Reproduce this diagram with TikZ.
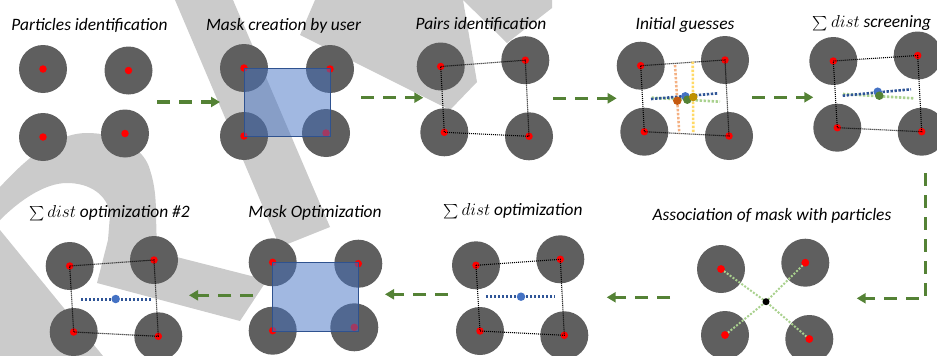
\documentclass[tikz,border=0pt]{standalone}
\usepackage{amsmath}
\usepackage{fontspec}
\setmainfont{Carlito}
\usetikzlibrary{arrows.meta}

\definecolor{pgray}{HTML}{5F5F5F}
\definecolor{wgray}{HTML}{CBCBCB}
\definecolor{fgreen}{HTML}{548235}
\definecolor{lgreen}{HTML}{A9D18E}
\definecolor{dblue}{HTML}{2F5597}
\definecolor{mblue}{HTML}{4472C4}
\definecolor{bord}{HTML}{2F528F}
\definecolor{lorange}{HTML}{F4B183}
\definecolor{dorange}{HTML}{C55A11}
\definecolor{lyellow}{HTML}{FFD966}
\definecolor{dgold}{HTML}{BF9000}

\tikzset{
  particle/.style={circle, fill=pgray, minimum size=48pt, inner sep=0pt},
  rdot/.style={circle, fill=red, minimum size=7.5pt, inner sep=0pt},
  cdot/.style={circle, minimum size=8.5pt, inner sep=0pt},
  pairline/.style={line width=1.1pt, dash pattern=on 1pt off 1pt},
  cline/.style={line width=2.6pt, dash pattern=on 2.4pt off 1.6pt},
  flow/.style={draw=fgreen, line width=3.3pt, dash pattern=on 13pt off 9pt,
    -{Triangle[length=9pt,width=10pt]}},
  mask/.style={fill=mblue, fill opacity=0.5, draw=bord, line width=1pt},
  title/.style={font=\fontsize{17.4}{20}\selectfont\itshape, anchor=base, inner sep=0pt},
  wmark/.style={fill=wgray, draw=none}
}

% summation sign set a little smaller than the title text, then "dist" in math italic
\newcommand{\sumdist}{{\fontsize{15}{15}\selectfont$\sum$}\,$dist$}

\newcommand{\quadpanel}[9]{%
  % #1 prefix, #2..#9 = x,y of four particles (tl, tr, bl, br)
  \node[particle] (#1a) at (#2,#3) {};
  \node[particle] (#1b) at (#4,#5) {};
  \node[particle] (#1c) at (#6,#7) {};
  \node[particle] (#1d) at (#8,#9) {};
  \node[rdot] (#1ra) at (#1a) {};
  \node[rdot] (#1rb) at (#1b) {};
  \node[rdot] (#1rc) at (#1c) {};
  \node[rdot] (#1rd) at (#1d) {};
}
\newcommand{\pairquad}[1]{%
  \draw[pairline] (#1ra.center) -- (#1rb.center) -- (#1rd.center) -- (#1rc.center) -- cycle;}

\begin{document}
\begin{tikzpicture}[x=1pt, y=-1pt]
\useasboundingbox (0,0) rectangle (937,356);

% background watermark strokes
\fill[wmark] (175,0) -- (233,0) -- (330,227) -- (280,247) -- cycle;
\fill[wmark] (315,0) -- (463,0) -- (507,43) -- (552,8) -- (552,0) -- (463,0)
  -- (477,82) -- (450,110) -- (300,35) -- cycle;
\fill[wmark]
  (0,187) .. controls (25,160) and (55,133) .. (87,133)
  .. controls (120,133) and (145,150) .. (150,170)
  .. controls (155,185) and (156,200) .. (156,215)
  -- (157,252) -- (267,280) -- (240,321) -- (97,283)
  -- (108,240) -- (110,215) .. controls (108,195) and (90,183) .. (67,183)
  .. controls (45,183) and (20,200) .. (0,220) -- cycle;
\fill[wmark] (0,230) -- (103,356) -- (0,356) -- cycle;

% titles
\node[title] (t1) at (89.5,30.7) {Particles identification};
\node[title] (t2) at (283.5,30.7) {Mask creation by user};
\node[title] (t3) at (481,29.3) {Pairs identification};
\node[title] (t4) at (685,29.3) {Initial guesses};
\node[title] (t5) at (872,27.5) {\sumdist\ screening};
\node[title] (t6) at (109.5,217.7) {\sumdist\ optimization \#2};
\node[title] (t7) at (315,217.7) {Mask Optimization};
\node[title] (t8) at (513,215.7) {\sumdist\ optimization};
\node[title] (t9) at (772,220) {Association of mask with particles};

% panel 1: particles identification
\quadpanel{p}{43}{69}{128.5}{70.5}{43}{137}{125}{133.5}

% panel 2: mask creation by user
\quadpanel{q}{244}{68}{330}{69}{244}{136}{326}{133}
\draw[mask] (qra.center) rectangle (330.3,136.7);

% panel 3: pairs identification
\quadpanel{r}{440.7}{66.5}{525.3}{60.2}{444.3}{132.3}{529}{136.3}
\pairquad{r}

% panel 4: initial guesses
\quadpanel{s}{640.7}{65.7}{725}{60}{644.3}{131.7}{729}{136}
\pairquad{s}
\coordinate (s_o1) at (675,65);   \coordinate (s_o2) at (679.3,133.3);
\coordinate (s_y1) at (692.7,61.7); \coordinate (s_y2) at (693.3,133.3);
\coordinate (s_b1) at (651,99);   \coordinate (s_b2) at (718.3,93.3);
\coordinate (s_g1) at (651.7,97.7); \coordinate (s_g2) at (720,101.7);
\draw[cline, lorange] (s_o1) -- (s_o2);
\draw[cline, lyellow] (s_y1) -- (s_y2);
\draw[cline, lgreen] (s_g1) -- (s_g2);
\draw[cline, dblue] (s_b1) -- (s_b2);
\node[cdot, fill=dorange] (s_od) at (677.3,100.7) {};
\node[cdot, fill=mblue] (s_bd) at (685.3,96.3) {};
\node[cdot, fill=fgreen] (s_gd) at (687.3,99.7) {};
\node[cdot, fill=dgold] (s_yd) at (693.3,97) {};

% panel 5: sum dist screening
\quadpanel{u}{833.3}{61}{917.7}{55.5}{837.3}{127.7}{921.7}{131.7}
\pairquad{u}
\coordinate (u_b1) at (842.7,95.7); \coordinate (u_b2) at (911,89.3);
\coordinate (u_g1) at (843,94);     \coordinate (u_g2) at (913.3,98.3);
\draw[cline, lgreen] (u_g1) -- (u_g2);
\draw[cline, dblue] (u_b1) -- (u_b2);
\node[cdot, fill=mblue] (u_bd) at (877.7,91.7) {};
\node[cdot, fill=fgreen] (u_gd) at (879.3,95.7) {};

% panel 6: sum dist optimization #2
\quadpanel{v}{69.7}{266}{154}{260}{73.7}{332}{158.3}{336.3}
\pairquad{v}
\coordinate (v_b1) at (81,299.3); \coordinate (v_b2) at (152.7,299.3);
\draw[cline, dblue] (v_b1) -- (v_b2);
\node[cdot, fill=mblue] (v_bd) at (115.7,299) {};

% panel 7: mask optimization
\quadpanel{w}{272.7}{262.3}{358.3}{263.7}{272.7}{330.7}{354.3}{327.3}
\draw[mask] (wra.center) rectangle (358.7,331);

% panel 8: sum dist optimization
\quadpanel{x}{476}{265.3}{560.3}{259.3}{480}{331}{564.3}{335.3}
\pairquad{x}
\coordinate (x_b1) at (486,296.7); \coordinate (x_b2) at (555,296.7);
\draw[cline, dblue] (x_b1) -- (x_b2);
\node[cdot, fill=mblue] (x_bd) at (521,296.7) {};

% panel 9: association of mask with particles
\quadpanel{y}{721}{269}{805.3}{262.7}{725}{335}{809.3}{339}
\coordinate (yc) at (766,301.7);
\foreach \k in {a,b,c,d} \draw[cline, lgreen, line width=2pt, dash pattern=on 2pt off 1.6pt] (yr\k.center) -- (yc);
\node[rdot] at (yra) {};
\node[rdot] at (yrb) {};
\node[rdot] at (yrc) {};
\node[rdot] at (yrd) {};
\node[circle, fill=black, minimum size=7pt, inner sep=0pt] (ycd) at (yc) {};

% flow arrows
\coordinate (f1s) at (157,102);   \coordinate (f1e) at (220,102);
\coordinate (f2s) at (361,97.7);  \coordinate (f2e) at (423.3,97.7);
\coordinate (f3s) at (553.3,98.3); \coordinate (f3e) at (616.7,98.3);
\coordinate (f4s) at (752,97.3);  \coordinate (f4e) at (813.3,97.3);
\coordinate (f5s) at (925.7,173.3); \coordinate (f5e) at (856.7,298.3);
\coordinate (f6s) at (670,297.3); \coordinate (f6e) at (606.7,297.3);
\coordinate (f7s) at (448,294.3); \coordinate (f7e) at (385,294.3);
\coordinate (f8s) at (253.3,295.3); \coordinate (f8e) at (189,295.3);
\draw[flow] (f1s) -- (f1e);
\draw[flow] (f2s) -- (f2e);
\draw[flow] (f3s) -- (f3e);
\draw[flow] (f4s) -- (f4e);
\draw[flow] (f5s) |- (f5e);
\draw[flow] (f6s) -- (f6e);
\draw[flow] (f7s) -- (f7e);
\draw[flow] (f8s) -- (f8e);
\end{tikzpicture}
\end{document}
